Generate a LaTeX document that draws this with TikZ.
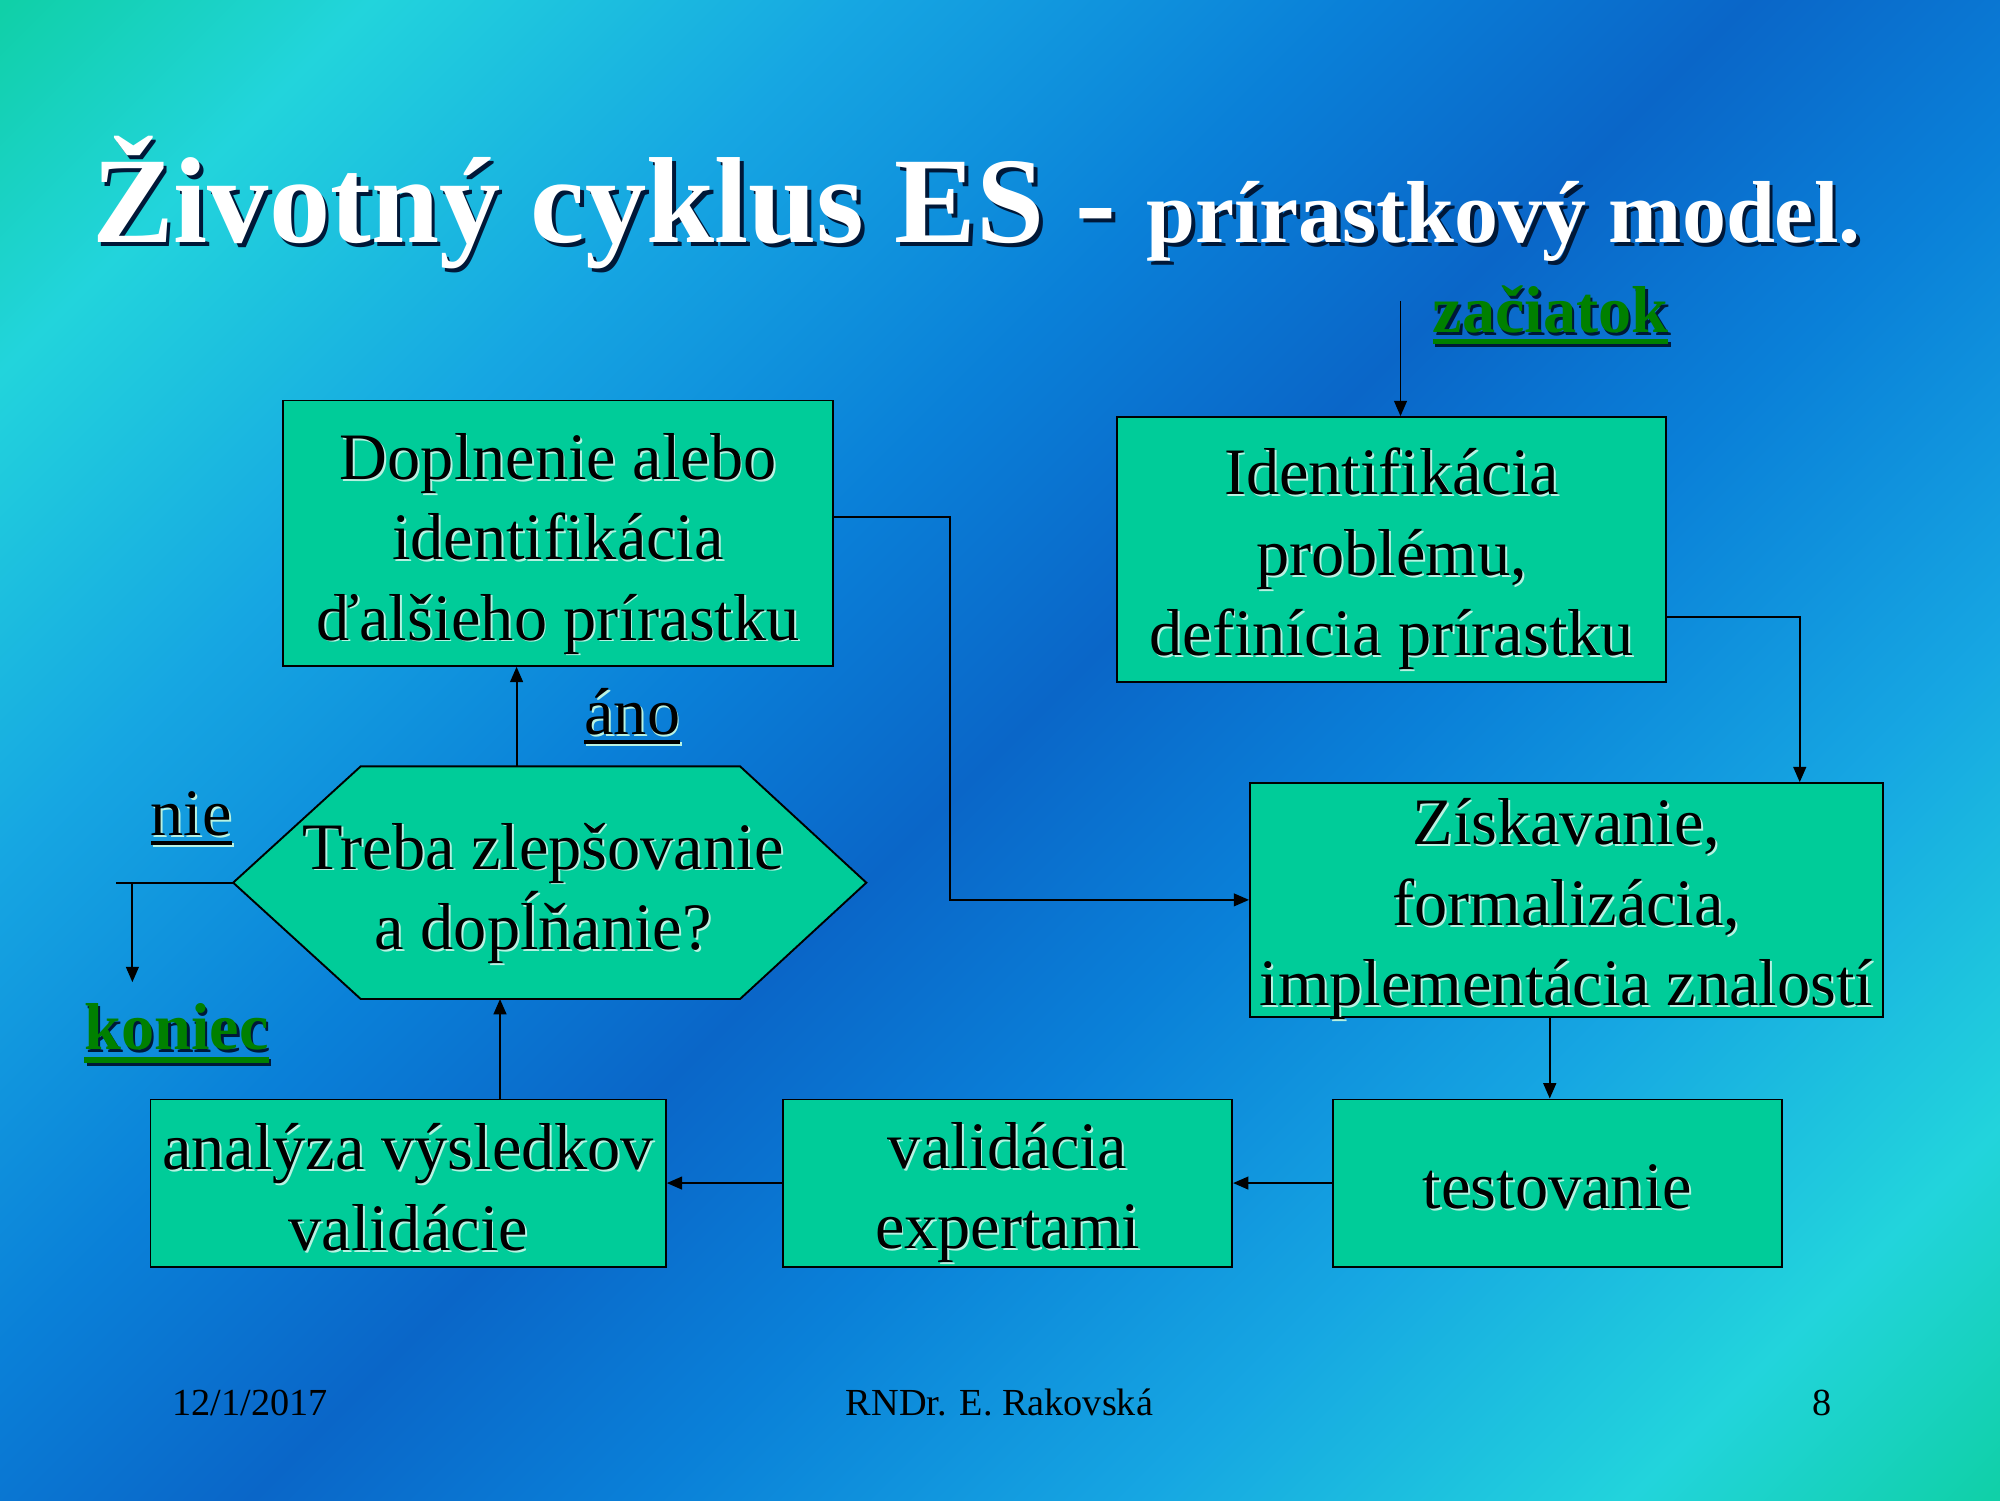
\documentclass[tikz,border=0pt]{standalone}
\usepackage{fontspec}
\setmainfont{Liberation Serif}
\usetikzlibrary{arrows.meta,calc}

\definecolor{boxfill}{HTML}{00CC99}
\definecolor{startgreen}{HTML}{008000}
\definecolor{shadelight}{HTML}{B8F2E2}
\definecolor{shadedark}{HTML}{001838}
\definecolor{bgteal}{HTML}{10D0A8}
\definecolor{bgcyan}{HTML}{22D4DC}
\definecolor{bgsky}{HTML}{16A6E2}
\definecolor{bgmid}{HTML}{0A80D8}
\definecolor{bgdeep}{HTML}{0A66C8}

% diagonal background: teal corners, deep blue band across the middle
\pgfdeclarehorizontalshading{slidebg}{100bp}{%
  color(0bp)=(bgteal); color(14.64bp)=(bgteal); color(22bp)=(bgcyan);
  color(32bp)=(bgsky); color(42bp)=(bgmid); color(50bp)=(bgdeep);
  color(58bp)=(bgmid); color(68bp)=(bgsky); color(78bp)=(bgcyan);
  color(85.36bp)=(bgteal); color(100bp)=(bgteal)}

% text with an offset shadow copy behind it
\newcommand\dropsh[4]{\leavevmode\rlap{\kern#2\raisebox{#3}{\textcolor{#1}{#4}}}#4}
\newcommand\boxsh[1]{\dropsh{shadelight}{1.5pt}{-1.5pt}{#1}}
\newcommand\titlesh[1]{\dropsh{shadedark}{3pt}{-3pt}{#1}}
\newcommand\greensh[1]{\dropsh{shadedark}{2pt}{-2pt}{#1}}
% underline: depth of rule bottom, thickness, text
\newcommand\ulin[3]{\setbox0=\hbox{#3}\hbox{\rlap{\rule[-#1]{\wd0}{#2}}\box0}}

\begin{document}
\begin{tikzpicture}[x=1pt,y=-1pt,
  flowbox/.style={draw=black, line width=1.5pt, fill=boxfill, inner sep=0pt},
  boxtext/.style={align=center, inner sep=0pt, text=black,
    font=\fontsize{52}{63}\selectfont},
  conn/.style={line width=1.5pt},
  arr/.style={line width=1.5pt, -{Triangle[length=12pt,width=10pt]}},
  lbl/.style={inner sep=0pt, anchor=base west, font=\fontsize{52}{63}\selectfont},
  foot/.style={inner sep=0pt, anchor=base west, text=black, font=\fontsize{30}{36}\selectfont}]

\useasboundingbox (0,0) rectangle (1568,1176);
\shade[shading=slidebg, shading angle=-45] (0,0) rectangle (1568,1176);

% heading
\node[inner sep=0pt, anchor=base west, text=white] (title) at (72,190)
  {\titlesh{{\fontsize{96}{110}\selectfont\bfseries Životný cyklus ES - }{\fontsize{69}{80}\selectfont\bfseries prírastkový model.}}};

% process boxes
\node[flowbox, minimum width=431pt, minimum height=208pt] (dopl) at (437.5,418) {};
\node[boxtext] (dopltext) at ([yshift=-9pt]dopl.center)
  {\boxsh{Doplnenie alebo}\\ \boxsh{identifikácia}\\ \boxsh{ďalšieho prírastku}};
\node[flowbox, minimum width=430pt, minimum height=208pt] (ident) at (1091,431) {};
\node[boxtext] (identtext) at ([yshift=-8pt]ident.center)
  {\boxsh{Identifikácia}\\ \boxsh{problému,}\\ \boxsh{definícia prírastku}};
\node[flowbox, minimum width=496pt, minimum height=183pt] (ziska) at (1228,705.5) {};
\node[boxtext] (ziskatext) at ([yshift=-8pt]ziska.center)
  {\boxsh{Získavanie,}\\ \boxsh{formalizácia,}\\ \boxsh{implementácia znalostí}};
\node[flowbox, minimum width=352pt, minimum height=131pt] (test) at (1221,927.5) {};
\node[boxtext] (testtext) at ([yshift=-4pt]test.center) {\boxsh{testovanie}};
\node[flowbox, minimum width=352pt, minimum height=131pt] (valid) at (790,927.5) {};
\node[boxtext] (validtext) at ([yshift=-8pt]valid.center)
  {\boxsh{validácia}\\ \boxsh{expertami}};
\node[flowbox, minimum width=404pt, minimum height=131pt] (anal) at (320,927.5) {};
\node[boxtext] (analtext) at ([yshift=-4pt]anal.center)
  {\boxsh{analýza výsledkov}\\ \boxsh{validácie}};

% decision hexagon
\node[inner sep=0pt, minimum width=496pt, minimum height=182pt] (hex) at (431,692) {};
\draw[conn, fill=boxfill] (hex.west) -- ([xshift=100pt]hex.north west)
  -- ([xshift=-99pt]hex.north east) -- (hex.east)
  -- ([xshift=-99pt]hex.south east) -- ([xshift=100pt]hex.south west) -- cycle;
\node[boxtext] (hextext) at ([xshift=-5pt,yshift=-9pt]hex.center)
  {\boxsh{Treba zlepšovanie}\\ \boxsh{a dopĺňanie?}};

% labels
\node[lbl, text=startgreen] (zac) at (1123,261)
  {\greensh{\ulin{9pt}{4pt}{\bfseries začiatok}}};
\node[lbl, text=startgreen] (kon) at (66,823)
  {\greensh{\ulin{10.5pt}{5pt}{\bfseries koniec}}};
\node[lbl, text=black] (nie) at (118,655) {\boxsh{\ulin{7.5pt}{3pt}{nie}}};
\node[lbl, text=black] (ano) at (458,576) {\boxsh{\ulin{7.5pt}{3pt}{áno}}};

% connectors
\coordinate (zacstart) at (1098,236);
\draw[arr] (zacstart) -- (zacstart |- ident.north);
\draw[arr] ([yshift=-53pt]ident.east) -| ([xshift=183pt]ziska.north);
\draw[arr] ([xshift=-13pt]ziska.south) -- ([xshift=-13pt]ziska.south |- test.north);
\draw[arr] (test.west) -- (valid.east);
\draw[arr] (valid.west) -- (anal.east);
\draw[arr] ([xshift=72pt]anal.north) -- ([xshift=72pt]anal.north |- hex.south);
\draw[arr] ([xshift=-26pt]hex.north) -- ([xshift=-26pt]hex.north |- dopl.south);
\draw[arr] ([yshift=13pt]dopl.east) -- ++(91,0) |- (ziska.west);
\draw[conn] (hex.west) -- ++(-92,0);
\draw[arr] ([xshift=-79pt]hex.west) -- ++(0,78);

% footer
\node[foot] (date) at (135,1110) {12/1/2017};
\node[foot] (author) at (663,1110) {RNDr. E. Rakovská};
\node[foot] (page) at (1421,1110) {8};
\end{tikzpicture}
\end{document}
